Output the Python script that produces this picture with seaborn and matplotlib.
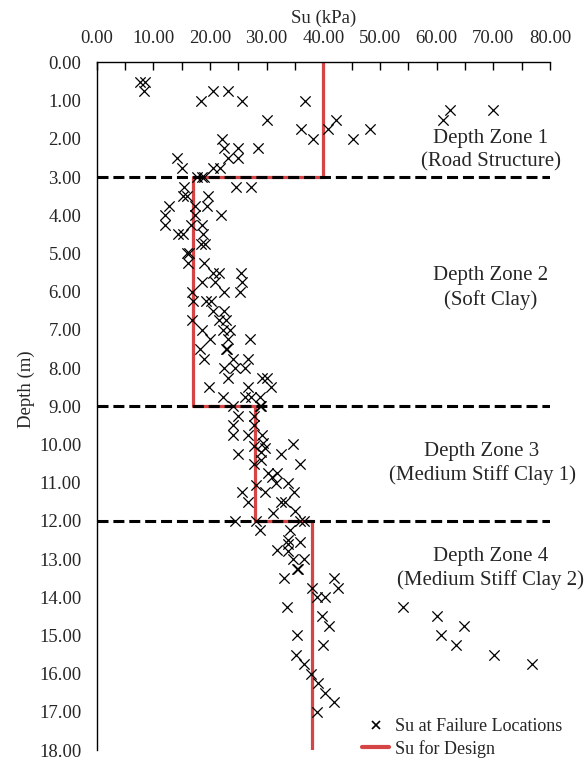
import matplotlib
matplotlib.use("Agg")
import matplotlib.pyplot as plt
import seaborn as sns
import pandas as pd
import numpy as np
from matplotlib.lines import Line2D
from matplotlib.ticker import MultipleLocator, FormatStrFormatter

# ---- data ----
su_fail = [
    7.6, 8.5, 8.4, 18.4, 20.5, 23.2, 25.6, 30.0, 36.8, 36.0, 38.1, 40.9, 42.2, 45.2, 48.3,
    61.2, 62.3, 69.9, 22.2, 22.5, 25.0, 28.5, 23.2, 25.0, 14.1, 15.1, 20.5, 21.8, 17.75, 18.5, 18.9,
    24.6, 27.2, 15.4, 15.3, 16.0, 19.6, 12.8, 19.4, 17.35, 12.05, 17.35, 22.0, 12.05, 16.6, 18.5,
    14.4, 15.2, 18.7, 18.35, 19.1, 15.9, 16.3, 16.2, 18.9, 20.6, 21.5, 25.5, 18.5, 20.8, 25.7,
    16.9, 22.5, 25.3, 17.05, 19.3, 20.1, 20.5, 22.5, 16.9, 21.6, 22.9, 22.3, 23.5, 18.5, 20.0,
    23.2, 27.05, 18.2, 22.8, 23.0, 18.9, 24.1, 26.75, 22.5, 24.4, 26.2, 23.2, 29.1, 30.0, 19.9,
    26.75, 30.8, 22.3, 26.2, 27.3, 28.8, 24.1, 28.8, 29.0,
    24.9, 27.8, 24.1, 27.8, 24.1, 26.75, 29.1, 29.4, 27.8, 34.7, 29.7, 24.9, 29.0, 32.6, 29.0,
    27.8, 35.9, 30.3, 31.8, 30.9, 31.6, 33.8, 28.2, 25.6, 29.7, 34.9, 26.75, 32.6, 33.2, 31.2,
    35.0, 24.4, 28.2, 35.9, 36.5,
    28.9, 34.1, 33.8, 35.9, 31.8, 33.8, 33.8, 34.7, 36.5, 35.3, 35.5, 33.1, 41.9, 42.5, 38.05,
    38.8, 40.3, 33.5, 39.7, 41.0, 35.3, 39.9, 35.2, 36.5, 37.9, 39.1, 40.3, 41.8, 38.9,
    54.1, 60.0, 64.8, 60.7, 63.4, 70.1, 76.8,
]
depth_fail = [
    0.5, 0.5, 0.75, 1.0, 0.75, 0.75, 1.0, 1.5, 1.0, 1.75, 2.0, 1.75, 1.5, 2.0, 1.75,
    1.5, 1.25, 1.25, 2.0, 2.25, 2.25, 2.25, 2.5, 2.5, 2.5, 2.75, 2.75, 2.75, 3.0, 3.0, 3.0,
    3.25, 3.25, 3.25, 3.5, 3.5, 3.5, 3.75, 3.75, 3.75, 4.0, 4.0, 4.0, 4.25, 4.25, 4.25,
    4.5, 4.5, 4.5, 4.75, 4.75, 5.0, 5.0, 5.25, 5.25, 5.5, 5.5, 5.5, 5.75, 5.75, 5.75,
    6.0, 6.0, 6.0, 6.25, 6.25, 6.25, 6.5, 6.5, 6.75, 6.75, 6.75, 7.0, 7.0, 7.0, 7.25,
    7.25, 7.25, 7.5, 7.5, 7.5, 7.75, 7.75, 7.75, 8.0, 8.0, 8.0, 8.25, 8.25, 8.25, 8.5,
    8.5, 8.5, 8.75, 8.75, 8.75, 8.75, 9.0, 9.0, 9.0,
    9.25, 9.25, 9.5, 9.5, 9.75, 9.75, 9.75, 9.95, 10.05, 10.0, 10.1, 10.25, 10.2, 10.25, 10.4,
    10.5, 10.5, 10.75, 10.75, 10.85, 11.0, 11.0, 11.05, 11.25, 11.25, 11.25, 11.5, 11.5, 11.5, 11.8,
    11.75, 12.0, 12.0, 12.0, 12.0,
    12.25, 12.25, 12.5, 12.55, 12.75, 12.6, 12.8, 13.0, 13.0, 13.25, 13.25, 13.5, 13.5, 13.75, 13.75,
    14.0, 14.0, 14.25, 14.5, 14.75, 15.0, 15.25, 15.5, 15.75, 16.0, 16.25, 16.5, 16.75, 17.0,
    14.25, 14.5, 14.75, 15.0, 15.25, 15.5, 15.75,
]
zone_top = [0, 3, 9, 12]
zone_bottom = [3, 9, 12, 18]
su_design = [40, 17, 28, 38]
zone_bounds = [3, 9, 12]
zone_labels = ["Depth Zone 1\n(Road Structure)", "Depth Zone 2\n(Soft Clay)",
               "Depth Zone 3\n(Medium Stiff Clay 1)", "Depth Zone 4\n(Medium Stiff Clay 2)"]
zone_label_depth = [2.3, 5.9, 10.5, 13.25]
zone_label_su = [69.5, 69.5, 68.0, 69.5]

df = pd.DataFrame({"su": su_fail, "depth": depth_fail})

# design step path built from zone values
step_x, step_y = [], []
for t, b, s in zip(zone_top, zone_bottom, su_design):
    step_x += [s, s]
    step_y += [t, b]

sns.set_style("white")
plt.rcParams["font.family"] = ["Liberation Serif", "DejaVu Serif"]

fig = plt.figure(figsize=(5.87, 7.62), dpi=100)
ax = fig.add_axes([0.1647, 0.0157, 0.937 - 0.1647, 0.918 - 0.0157])

red = "#d64545"
ax.plot(step_x, step_y, color=red, lw=2.3, zorder=2)
for d in zone_bounds:
    ax.plot([0, 80], [d, d], color="black", lw=2.2, ls=(0, (3.6, 1.6)), zorder=3)

sns.scatterplot(data=df, x="su", y="depth", marker="x", color="black", s=55,
                linewidth=0.9, ax=ax, zorder=4, legend=False)

for lab, yy, xx in zip(zone_labels, zone_label_depth, zone_label_su):
    ax.text(xx, yy, lab, ha="center", va="center", fontsize=15, linespacing=1.3)

ax.set_xlim(0, 80)
ax.set_ylim(18, 0)
ax.xaxis.set_label_position("top")
ax.xaxis.tick_top()
ax.xaxis.set_major_locator(MultipleLocator(10))
ax.xaxis.set_minor_locator(MultipleLocator(5))
ax.yaxis.set_major_locator(MultipleLocator(1))
ax.yaxis.set_minor_locator(MultipleLocator(0.5))
ax.xaxis.set_major_formatter(FormatStrFormatter("%.2f"))
ax.yaxis.set_major_formatter(FormatStrFormatter("%.2f"))
ax.tick_params(axis="both", which="both", direction="in", labelsize=13.5, width=1.0, color="black")
ax.tick_params(axis="both", which="major", length=6, pad=11)
ax.tick_params(axis="both", which="minor", length=6)
ax.set_xlabel("Su (kPa)", fontsize=13.5, labelpad=5)
ax.set_ylabel("Depth (m)", fontsize=13.5, labelpad=5)
ax.yaxis.set_label_coords(-0.135, 0.525)
for sp in ["right", "bottom"]:
    ax.spines[sp].set_visible(False)
for sp in ["left", "top"]:
    ax.spines[sp].set_color("black")
    ax.spines[sp].set_linewidth(1.0)

handles = [Line2D([], [], marker="x", color="black", ls="none", markersize=6, markeredgewidth=1.2),
           Line2D([], [], color=red, lw=3)]
fig.legend(handles, ["Su at Failure Locations", "Su for Design"], loc="upper left",
           bbox_to_anchor=(0.605, 0.067), frameon=False, fontsize=13,
           handlelength=1.5, handletextpad=0.3, labelspacing=0.25, borderaxespad=0)

fig.savefig("out.png", dpi=100)
